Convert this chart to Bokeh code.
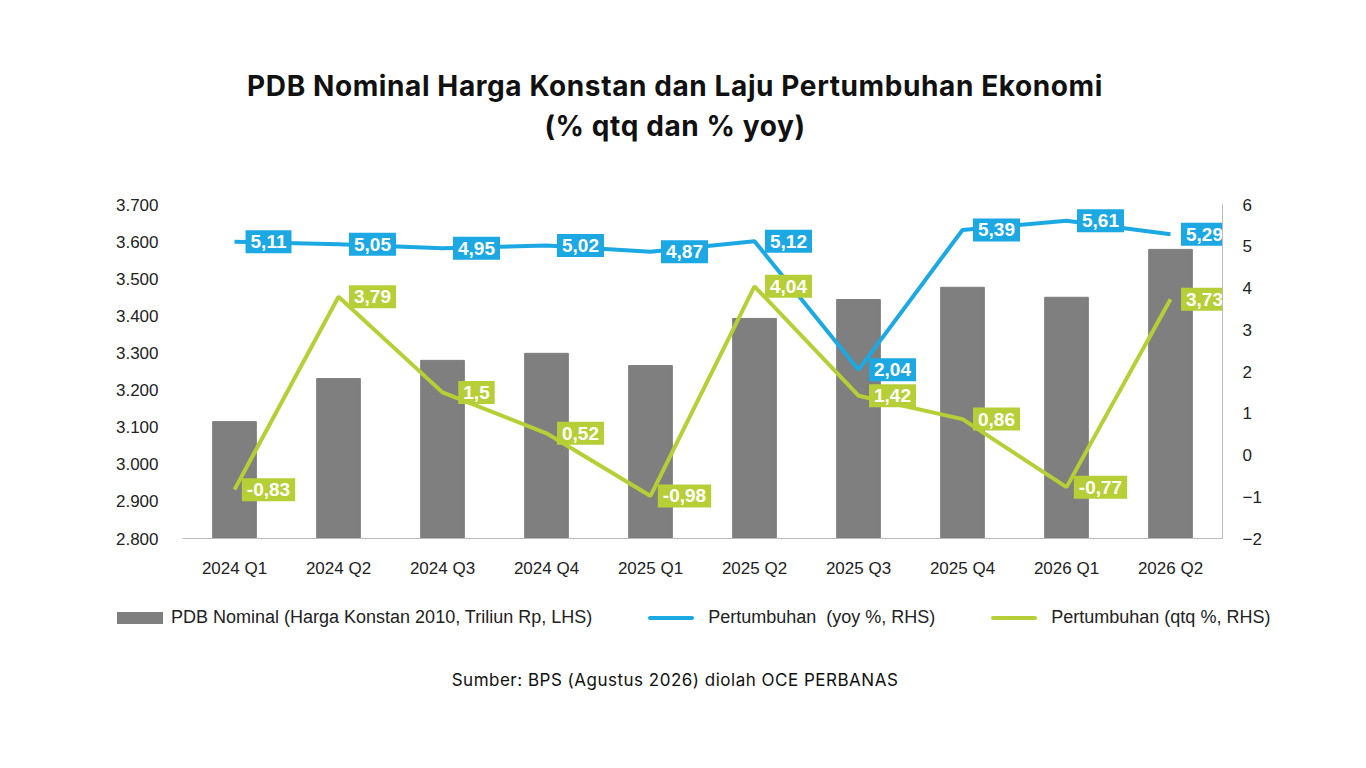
from bokeh.plotting import figure
from bokeh.models import (ColumnDataSource, Range1d, LinearAxis, Div, CustomJSTickFormatter, FixedTicker)
from bokeh.layouts import column
from bokeh.core.properties import value
from bokeh.embed import file_html
from bokeh.resources import INLINE

quarters = ["2024 Q1", "2024 Q2", "2024 Q3", "2024 Q4", "2025 Q1",
            "2025 Q2", "2025 Q3", "2025 Q4", "2026 Q1", "2026 Q2"]
pdb = [3115, 3231, 3280, 3299, 3266, 3393, 3444, 3477, 3450, 3579]
yoy = [5.11, 5.05, 4.95, 5.02, 4.87, 5.12, 2.04, 5.39, 5.61, 5.29]
qtq = [-0.83, 3.79, 1.5, 0.52, -0.98, 4.04, 1.42, 0.86, -0.77, 3.73]
yoy_labels = ["5,11", "5,05", "4,95", "5,02", "4,87", "5,12", "2,04", "5,39", "5,61", "5,29"]
qtq_labels = ["-0,83", "3,79", "1,5", "0,52", "-0,98", "4,04", "1,42", "0,86", "-0,77", "3,73"]
legend_labels = ["PDB Nominal (Harga Konstan 2010, Triliun Rp, LHS)",
                 "Pertumbuhan&nbsp; (yoy %, RHS)", "Pertumbuhan (qtq %, RHS)"]
title1 = "PDB Nominal Harga Konstan dan Laju Pertumbuhan Ekonomi"
title2 = "(% qtq dan % yoy)"
source_text = "Sumber: BPS (Agustus 2026) diolah OCE PERBANAS"

BLUE = "#1ba8e3"
LIME = "#b7cf36"
GRAY = "#7f7f7f"

src = ColumnDataSource(dict(x=quarters, pdb=pdb, yoy=yoy, qtq=qtq, yl=yoy_labels, ql=qtq_labels))

title_div = Div(text=f"<div style='width:1350px;text-align:center;font-family:Inter;font-weight:bold;"
                     f"font-size:28px;letter-spacing:0.6px;line-height:40px;color:#111;padding-top:66px'>"
                     f"{title1}<br>{title2}</div>", width=1350, height=180, margin=(0, 0, 0, 0))

p = figure(x_range=quarters, y_range=Range1d(2800, 3700), width=1350, height=400,
           output_backend="svg", toolbar_location=None,
           min_border_left=182, min_border_right=128, min_border_top=24, min_border_bottom=10,
           margin=(0, 0, 0, 0))
p.extra_y_ranges = {"r": Range1d(-2, 6)}

p.outline_line_color = None
p.xgrid.grid_line_color = None
p.ygrid.grid_line_color = None

p.vbar(x="x", top="pdb", bottom=2800, width=0.42, color=GRAY, source=src)
p.line(x="x", y="yoy", y_range_name="r", line_color=BLUE, line_width=4, source=src)
p.line(x="x", y="qtq", y_range_name="r", line_color=LIME, line_width=4, source=src)

ra = LinearAxis(y_range_name="r", ticker=FixedTicker(ticks=list(range(-2, 7))))
p.add_layout(ra, "right")

for ax in (p.yaxis[0], ra):
    ax.major_tick_line_color = None
    ax.minor_tick_line_color = None
    ax.major_label_text_font = "Liberation Sans"
    ax.major_label_text_font_size = "17px"
    ax.major_label_text_color = "#222222"
p.yaxis[0].axis_line_color = None
ra.axis_line_color = "#bbbbbb"
p.yaxis[0].ticker = FixedTicker(ticks=list(range(2800, 3701, 100)))
p.yaxis[0].formatter = CustomJSTickFormatter(code="return (tick/1000).toFixed(3);")
p.yaxis[0].major_label_standoff = 18
ra.major_label_standoff = 14

xa = p.xaxis[0]
xa.axis_line_color = "#bbbbbb"
xa.major_tick_line_color = None
xa.major_label_text_font = "Liberation Sans"
xa.major_label_text_font_size = "17px"
xa.major_label_text_color = "#222222"
xa.major_label_standoff = 14

for col, lab, color in (("yoy", "yl", BLUE), ("qtq", "ql", LIME)):
    p.text(x="x", y=col, text=lab, y_range_name="r", source=src, x_offset=34,
           text_align="center", text_baseline="middle", text_color="white",
           text_font=value("Liberation Sans"), text_font_style="bold", text_font_size="19px",
           background_fill_color=color, padding=5)

swatches = [f"<span style='display:inline-block;width:46px;height:12px;background:{GRAY};vertical-align:middle'></span>",
            f"<span style='display:inline-block;width:46px;height:4px;border-radius:2px;background:{BLUE};vertical-align:middle'></span>",
            f"<span style='display:inline-block;width:46px;height:4px;border-radius:2px;background:{LIME};vertical-align:middle'></span>"]
gaps = ["8px", "14px", "14px"]
items = "".join(
    f"<span style='margin-right:56px;white-space:nowrap'>{s}<span style='margin-left:{g}'>{t}</span></span>"
    for s, g, t in zip(swatches, gaps, legend_labels))
legend_div = Div(text=f"<div style='width:1350px;padding-left:117px;box-sizing:border-box;font-family:Liberation Sans;"
                      f"font-size:18px;color:#222;line-height:24px;padding-top:25px;white-space:nowrap'>{items}</div>",
                 width=1350, height=68, margin=(0, 0, 0, 0))

src_div = Div(text=f"<div style='width:1350px;text-align:center;font-family:Inter;font-size:17px;letter-spacing:0.5px;"
                   f"color:#111;padding-top:20px'>{source_text}</div>",
              width=1350, height=60, margin=(0, 0, 0, 0))

open("out.html", "w").write(file_html(column(title_div, p, legend_div, src_div), INLINE))
